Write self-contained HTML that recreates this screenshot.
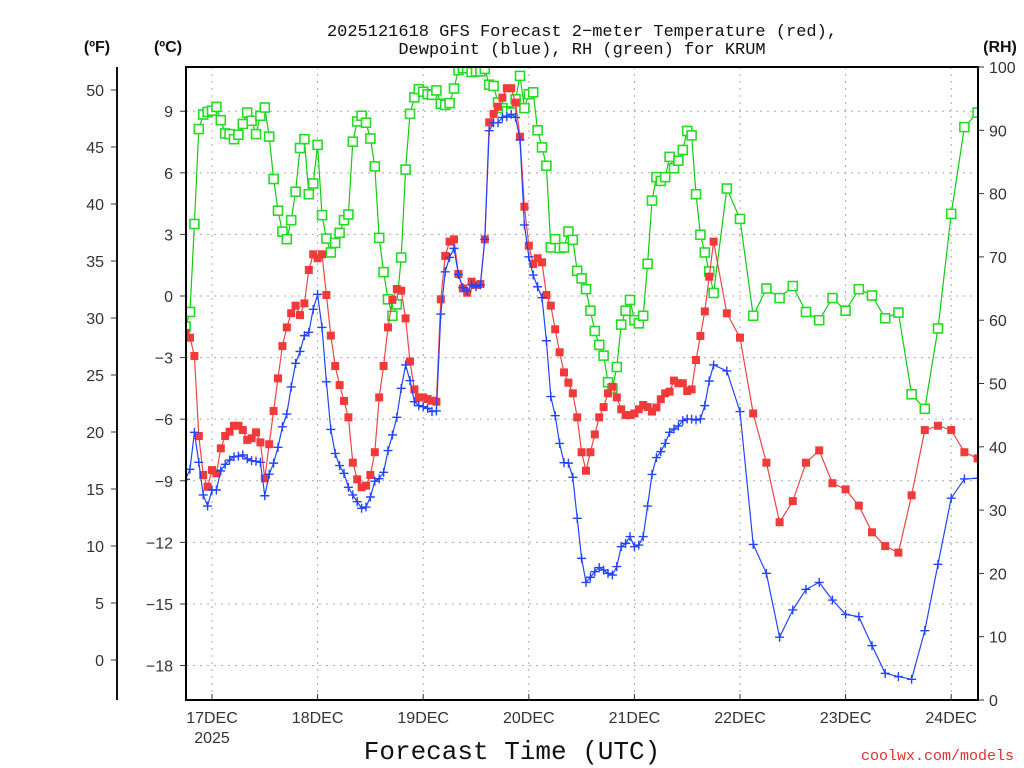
<!DOCTYPE html>
<html><head><meta charset="utf-8"><style>
html,body{margin:0;padding:0;background:#fff;}
svg{display:block;font-family:"Liberation Sans",sans-serif;}
</style></head><body>
<svg id="chart" width="1024" height="768" viewBox="0 0 1024 768">
<text x="582" y="36" text-anchor="middle" font-size="17" fill="#111" font-family="Liberation Mono, monospace">2025121618 GFS Forecast 2−meter Temperature (red),</text>
<text x="582" y="54" text-anchor="middle" font-size="17" fill="#111" font-family="Liberation Mono, monospace">Dewpoint (blue), RH (green) for KRUM</text>
<text x="97" y="52" text-anchor="middle" font-size="16" font-weight="bold" fill="#111">(ºF)</text>
<text x="168" y="52" text-anchor="middle" font-size="16" font-weight="bold" fill="#111">(ºC)</text>
<text x="1000" y="52" text-anchor="middle" font-size="16" font-weight="bold" fill="#111">(RH)</text>
<text x="512" y="759" text-anchor="middle" font-size="26" fill="#111" font-family="Liberation Mono, monospace">Forecast Time (UTC)</text>
<text x="1014" y="760" text-anchor="end" font-size="15" fill="#e03030" font-family="Liberation Mono, monospace">coolwx.com/models</text>
<g id="grid"></g>
<g id="axes"></g>
<defs><clipPath id="plotclip"><rect x="186" y="67" width="792" height="633"/></clipPath></defs>
<g id="series" clip-path="url(#plotclip)"></g>
<rect x="186" y="67" width="792" height="633" fill="none" stroke="#000" stroke-width="2"/>
</svg>
<script>
const hours = [0,1,2,3,4,5,6,7,8,9,10,11,12,13,14,15,16,17,18,19,20,21,22,23,24,25,26,27,28,29,30,31,32,33,34,35,36,37,38,39,40,41,42,43,44,45,46,47,48,49,50,51,52,53,54,55,56,57,58,59,60,61,62,63,64,65,66,67,68,69,70,71,72,73,74,75,76,77,78,79,80,81,82,83,84,85,86,87,88,89,90,91,92,93,94,95,96,97,98,99,100,101,102,103,104,105,106,107,108,109,110,111,112,113,114,115,116,117,118,119,120,123,126,129,132,135,138,141,144,147,150,153,156,159,162,165,168,171,174,177,180];
const tempC = [-1.8,-2.03,-2.92,-6.82,-8.72,-9.29,-8.48,-8.64,-7.42,-6.82,-6.61,-6.32,-6.32,-6.53,-7.01,-6.93,-6.64,-7.13,-8.88,-7.22,-5.60,-4.01,-2.44,-1.53,-0.84,-0.47,-0.93,-0.36,1.27,2.03,1.84,2.03,0.05,-1.93,-3.41,-4.34,-5.11,-5.91,-8.12,-8.93,-9.32,-9.24,-8.72,-7.61,-4.94,-3.41,
-1.53,-0.19,0.34,0.26,-1.09,-3.19,-4.55,-4.94,-4.94,-5.02,-5.10,-5.15,-0.16,1.95,2.65,2.76,1.07,0.37,0.16,0.70,0.54,0.58,2.76,8.46,8.87,9.22,9.66,10.12,10.12,9.42,7.76,4.35,2.45,1.56,1.84,1.64,0.05,-0.47,-1.62,-2.74,-3.72,-4.22,-4.74,-5.91,-7.61,
-8.51,-7.61,-6.74,-5.91,-5.41,-4.74,-4.42,-4.94,-5.52,-5.80,-5.80,-5.72,-5.52,-5.31,-5.41,-5.63,-5.43,-5.03,-4.74,-4.66,-4.12,-4.25,-4.25,-4.63,-4.55,-3.12,-1.95,-0.75,0.94,2.65,
-0.84,-2.03,-5.72,-8.12,-11.02,-9.99,-8.12,-7.52,-9.12,-9.42,-10.21,-11.51,-12.18,-12.50,-9.71,-6.53,-6.32,-6.53,-7.61,-7.91];
const dewC = [-8.93,-8.44,-6.64,-8.10,-9.69,-10.23,-9.45,-9.45,-8.52,-8.20,-7.99,-7.83,-7.80,-7.74,-7.93,-8.02,-8.05,-8.10,-9.73,-8.68,-8.14,-7.37,-6.37,-5.75,-4.43,-3.28,-2.70,-1.93,-1.77,-0.65,0.08,-1.53,-4.18,-6.50,-7.67,-8.26,-8.64,-9.32,-9.69,-10.02,-10.34,-10.28,-9.79,-9.02,-8.9,
-8.59,-7.53,-6.77,-5.91,-4.50,-3.36,-4.12,-5.15,-5.34,-5.39,-5.47,-5.63,-5.60,-0.88,1.18,1.88,2.32,1.05,0.41,0.24,0.54,0.45,0.54,2.76,8.05,8.44,8.44,8.70,8.73,8.85,8.70,7.60,3.46,1.91,1.02,0.45,-0.08,-2.18,-4.90,-5.83,-7.18,-8.12,-8.14,-8.83,-10.83,
-12.78,-13.95,-13.70,-13.43,-13.23,-13.35,-13.51,-13.59,-13.18,-12.21,-12.05,-11.72,-12.21,-12.13,-11.72,-10.23,-8.69,-7.87,-7.58,-7.18,-6.64,-6.48,-6.33,-6.07,-5.99,-6.00,-6.04,-5.99,-5.34,-4.14,-3.36,
-3.65,-5.63,-12.10,-13.51,-16.62,-15.29,-14.29,-13.95,-14.81,-15.51,-15.62,-17.03,-18.38,-18.54,-18.67,-16.30,-13.07,-9.85,-8.91,-8.88];
const rhPct = [59.0,61.3,75.2,90.2,92.5,92.9,93.1,93.7,91.6,89.5,89.4,88.6,89.3,91.0,92.8,91.5,89.4,92.3,93.6,89.0,82.3,77.3,74.0,72.8,75.8,80.3,87.2,88.6,79.9,81.6,87.7,76.6,72.9,70.7,72.2,73.8,75.8,76.7,88.2,91.4,92.3,91.2,88.7,84.3,73.0,67.6,
63.3,60.7,62.5,69.9,83.8,92.6,95.2,96.5,96.1,95.7,95.6,96.3,94.2,94.0,94.3,96.6,99.5,99.8,99.8,99.2,99.3,99.3,99.7,97.2,97.0,94.4,93.5,93.0,92.8,94.9,98.6,93.5,95.7,96.0,90.0,87.3,84.4,71.5,72.8,71.4,
71.5,74.0,72.7,67.8,66.6,64.9,61.5,58.3,56.1,54.4,50.2,49.2,52.6,59.3,61.5,63.2,60.0,59.5,60.7,68.9,78.9,82.6,82.0,82.6,85.8,84.0,85.2,86.9,89.9,89.2,79.9,73.5,70.7,67.7,64.3,
80.8,76.0,60.7,65.0,63.5,65.4,61.3,60.0,63.5,61.5,64.9,63.9,60.3,61.2,48.3,46.0,58.7,76.8,90.5,92.8];
const dayLabels = ["17DEC","18DEC","19DEC","20DEC","21DEC","22DEC","23DEC","24DEC"];
const dayHours = [6,30,54,78,102,126,150,174];
const cTicks = [-18,-15,-12,-9,-6,-3,0,3,6,9];
const fTicks = [0,5,10,15,20,25,30,35,40,45,50];
const rhTicks = [0,10,20,30,40,50,60,70,80,90,100];

const NS = "http://www.w3.org/2000/svg";
const xOf = h => 185.6 + 4.4 * h;
const yC = c => 296 - 20.53 * c;
const yF = f => 660 - 11.4 * f;
const yRH = r => 700 - 6.33 * r;
function mk(tag, attrs, parent) { const e = document.createElementNS(NS, tag); for (const k in attrs) e.setAttribute(k, attrs[k]); parent.appendChild(e); return e; }
const grid = document.getElementById('grid'), axes = document.getElementById('axes'), ser = document.getElementById('series');

cTicks.forEach(c => {
  const y = yC(c);
  const g = mk('line', {x1:186, x2:978, y1:y, y2:y, stroke:'#aaa', 'stroke-dasharray':'2,5'}, grid);
  
  
  const t = mk('line', {x1:180, x2:186, y1:y, y2:y, stroke:'#333'}, axes);
  
  
  const l = mk('text', {x:173, y:y+6, 'text-anchor':'end', 'font-size':16, fill:'#333'}, axes);
  l.textContent = c < 0 ? '−' + Math.abs(c) : String(c);
  
  
});
const fl = mk('line', {x1:117, x2:117, y1:67, y2:700, stroke:'#111', 'stroke-width':2}, axes);


fTicks.forEach(f => {
  const y = yF(f);
  const t = mk('line', {x1:111, x2:117, y1:y, y2:y, stroke:'#333'}, axes);
  
  
  const l = mk('text', {x:104, y:y+6, 'text-anchor':'end', 'font-size':16, fill:'#333'}, axes);
  l.textContent = String(f);
  
  
});
rhTicks.forEach(r => {
  const y = yRH(r);
  const t = mk('line', {x1:978, x2:984, y1:y, y2:y, stroke:'#333'}, axes);
  
  
  const l = mk('text', {x:989, y:y+6, 'text-anchor':'start', 'font-size':16, fill:'#333'}, axes);
  l.textContent = String(r);
  
  
});
dayHours.forEach((h, i) => {
  const x = xOf(h);
  const g = mk('line', {x1:x, x2:x, y1:67, y2:700, stroke:'#aaa', 'stroke-dasharray':'2,5'}, grid);
  
  
  const t = mk('line', {x1:x, x2:x, y1:694, y2:700, stroke:'#333'}, axes);
  
  
  const l = mk('text', {x:x, y:723, 'text-anchor':'middle', 'font-size':16, fill:'#333'}, axes);
  l.textContent = dayLabels[i];
  
  
});
const yr = mk('text', {x:xOf(dayHours[0]), y:743, 'text-anchor':'middle', 'font-size':16, fill:'#333'}, axes);
yr.textContent = '2025';



function drawSeries(vals, yfn, color, markerColor, kind, name) {
  const g = mk('g', {}, ser);
  
  
  const pts = vals.map((v, i) => xOf(hours[i]).toFixed(1) + ',' + yfn(v).toFixed(1)).join(' ');
  const pl = mk('polyline', {points:pts, fill:'none', stroke:color, 'stroke-width':1.2}, g);
  
  
  vals.forEach((v, i) => {
    const x = xOf(hours[i]), y = yfn(v);
    let m;
    if (kind === 'fill') m = mk('rect', {x:x-4, y:y-4, width:8, height:8, fill:markerColor}, g);
    else if (kind === 'open') m = mk('rect', {x:x-4.5, y:y-4.5, width:9, height:9, fill:'#fff', stroke:markerColor, 'stroke-width':1.6}, g);
    else m = mk('path', {d:`M${x-4.5},${y}H${x+4.5}M${x},${y-4.5}V${y+4.5}`, stroke:markerColor, 'stroke-width':1.4}, g);
    
    
  });
}
drawSeries(rhPct, yRH, '#11cc11', '#22dd22', 'open', 'rh');
drawSeries(tempC, yC, '#f04444', '#f23a3a', 'fill', 'temperature');
drawSeries(dewC, yC, '#2244ff', '#2244ff', 'plus', 'dewpoint');
</script>
</body></html>
